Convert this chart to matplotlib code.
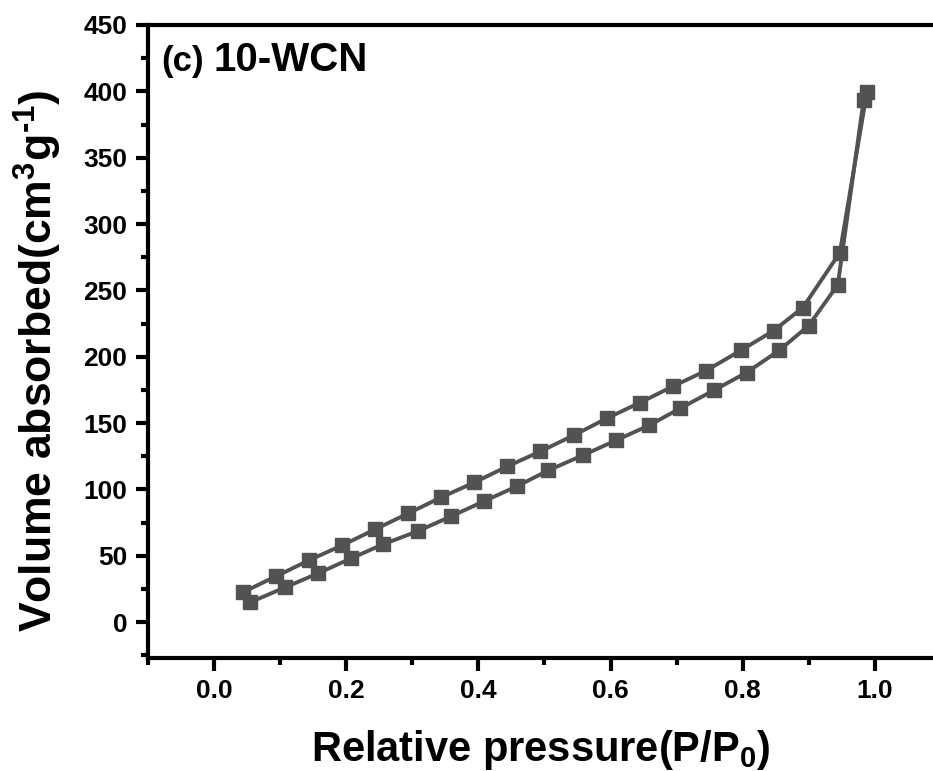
import matplotlib
matplotlib.use('Agg')
import matplotlib.pyplot as plt
from matplotlib.ticker import MultipleLocator

plt.rcParams['font.family'] = ['Liberation Sans', 'DejaVu Sans']
plt.rcParams['font.weight'] = 'bold'
plt.rcParams['mathtext.fontset'] = 'custom'
plt.rcParams['mathtext.rm'] = 'Liberation Sans:bold'
plt.rcParams['mathtext.it'] = 'Liberation Sans:bold'
plt.rcParams['mathtext.bf'] = 'Liberation Sans:bold'

# adsorption branch (lower)
p_ads = [0.055, 0.108, 0.158, 0.208, 0.256, 0.308, 0.359, 0.408, 0.458, 0.506,
         0.558, 0.608, 0.658, 0.705, 0.756, 0.806, 0.855, 0.900, 0.944, 0.983]
v_ads = [15.0, 26.3, 36.9, 48.2, 58.7, 68.5, 79.8, 91.0, 102.3, 114.4,
         125.7, 136.9, 148.2, 161.0, 174.6, 188.1, 204.7, 223.5, 254.3, 393.5]

# desorption branch (upper)
p_des = [0.988, 0.947, 0.891, 0.847, 0.797, 0.745, 0.694, 0.645, 0.594, 0.544,
         0.494, 0.444, 0.394, 0.344, 0.294, 0.244, 0.194, 0.144, 0.094, 0.044]
v_des = [399.5, 278.4, 237.0, 219.7, 204.7, 189.6, 177.6, 165.5, 153.5, 140.7,
         128.7, 117.4, 105.3, 94.1, 82.0, 70.0, 57.9, 46.7, 34.6, 22.6]

fig = plt.figure(figsize=(9.33, 7.71), dpi=100)
ax = fig.add_axes([0.1586, 0.1466, 0.8414, 0.8210])

col = '#525252'
ax.plot(p_ads, v_ads, color=col, lw=2.8, marker='s', ms=10, mec=col, mfc=col)
ax.plot(p_des, v_des, color=col, lw=2.8, marker='s', ms=10, mec=col, mfc=col)

ax.set_xlim(-0.1, 1.088)
ax.set_ylim(-27, 450)
ax.xaxis.set_major_locator(MultipleLocator(0.2))
ax.xaxis.set_minor_locator(MultipleLocator(0.1))
ax.yaxis.set_major_locator(MultipleLocator(50))
ax.yaxis.set_minor_locator(MultipleLocator(25))
ax.set_xticks([0.0, 0.2, 0.4, 0.6, 0.8, 1.0])
ax.set_xticklabels(['0.0', '0.2', '0.4', '0.6', '0.8', '1.0'])

for s in ['left', 'bottom', 'top']:
    ax.spines[s].set_linewidth(3)
ax.spines['right'].set_visible(False)
ax.tick_params(which='major', direction='out', length=9, width=3, labelsize=19, pad=6)
ax.tick_params(which='minor', direction='out', length=5, width=3)
for lab in ax.get_xticklabels() + ax.get_yticklabels():
    lab.set_fontweight('bold')

ax.set_xlabel('Relative pressure(P/P$_{0}$)', fontsize=30, fontweight='bold', labelpad=18)
ax.set_ylabel('Volume absorbed(cm$^{3}$g$^{\\text{-1}}$)', fontsize=32, fontweight='bold')
ax.yaxis.set_label_coords(-0.107, 0.469)

ax.text(0.017, 0.927, '(c)', transform=ax.transAxes, fontsize=25, fontweight='bold',
        va='baseline', ha='left')
ax.text(0.084, 0.927, '10-WCN', transform=ax.transAxes, fontsize=29, fontweight='bold',
        va='baseline', ha='left')

fig.savefig('out.png', dpi=100)
